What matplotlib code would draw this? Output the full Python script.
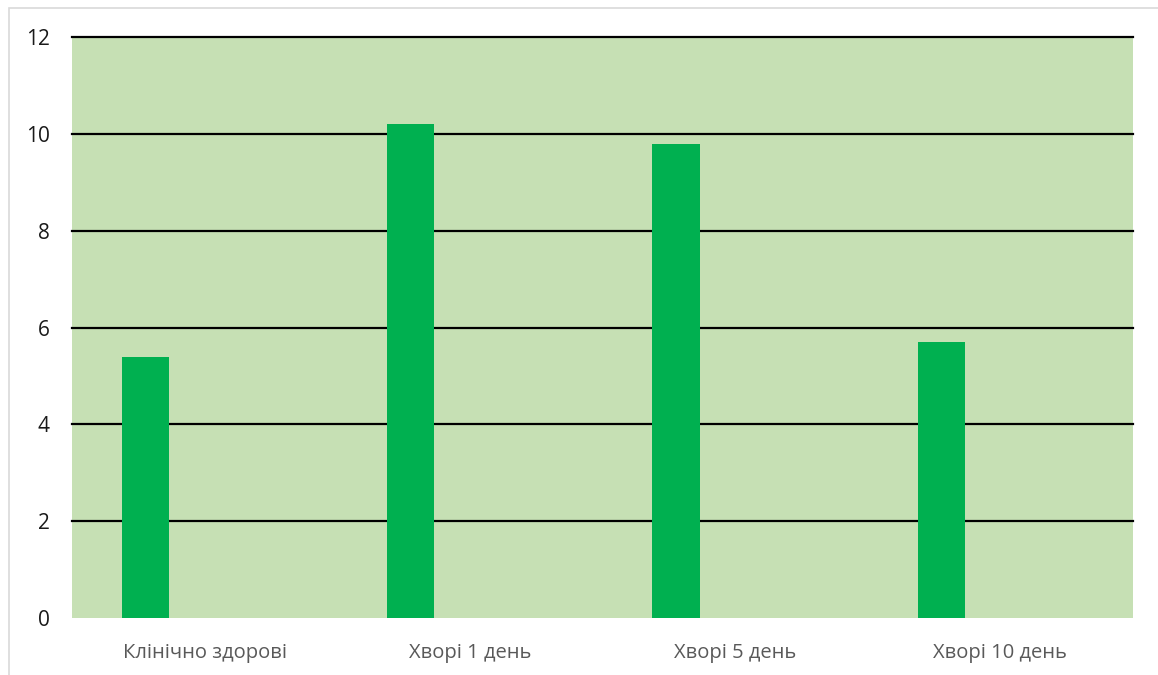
import matplotlib.pyplot as plt
from matplotlib.patches import Rectangle
import numpy as np

plt.rcParams['font.family'] = ['Open Sans', 'DejaVu Sans']

groups = ['Клінічно здорові', 'Хворі 1 день', 'Хворі 5 день', 'Хворі 10 день']
values = [5.4, 10.2, 9.8, 5.7]
yticks = [0, 2, 4, 6, 8, 10, 12]

fig = plt.figure(figsize=(11.58, 6.75), dpi=100)
ax = fig.add_axes([0.0622, 0.0844, 0.9162, 0.8608])

x = np.arange(len(groups))
ax.bar(x - 0.223, values, width=0.178, color='#00B050', zorder=3)

ax.set_facecolor('#C6E0B4')
ax.set_xlim(-0.5, len(groups) - 0.5)
ax.set_ylim(0, 12)
ax.set_yticks(yticks)
ax.set_yticklabels([str(t) for t in yticks], fontsize=15, color='#1a1a1a')
ax.set_xticks(x)
ax.set_xticklabels(groups, fontsize=14.5, color='#595959')
ax.tick_params(axis='both', length=0)
ax.tick_params(axis='y', pad=16)
ax.tick_params(axis='x', pad=18)

for t in yticks[1:]:
    ax.axhline(t, color='black', linewidth=1.6, zorder=2, clip_on=False)

for s in ax.spines.values():
    s.set_visible(False)

# thin outer border of the chart area
fig.patches.append(Rectangle((9 / 1158, -0.1), 1.2, 1 - 8 / 675 + 0.1,
                             transform=fig.transFigure, fill=False,
                             edgecolor='#d9d9d9', linewidth=1.2))

fig.savefig('out.png', dpi=100)
